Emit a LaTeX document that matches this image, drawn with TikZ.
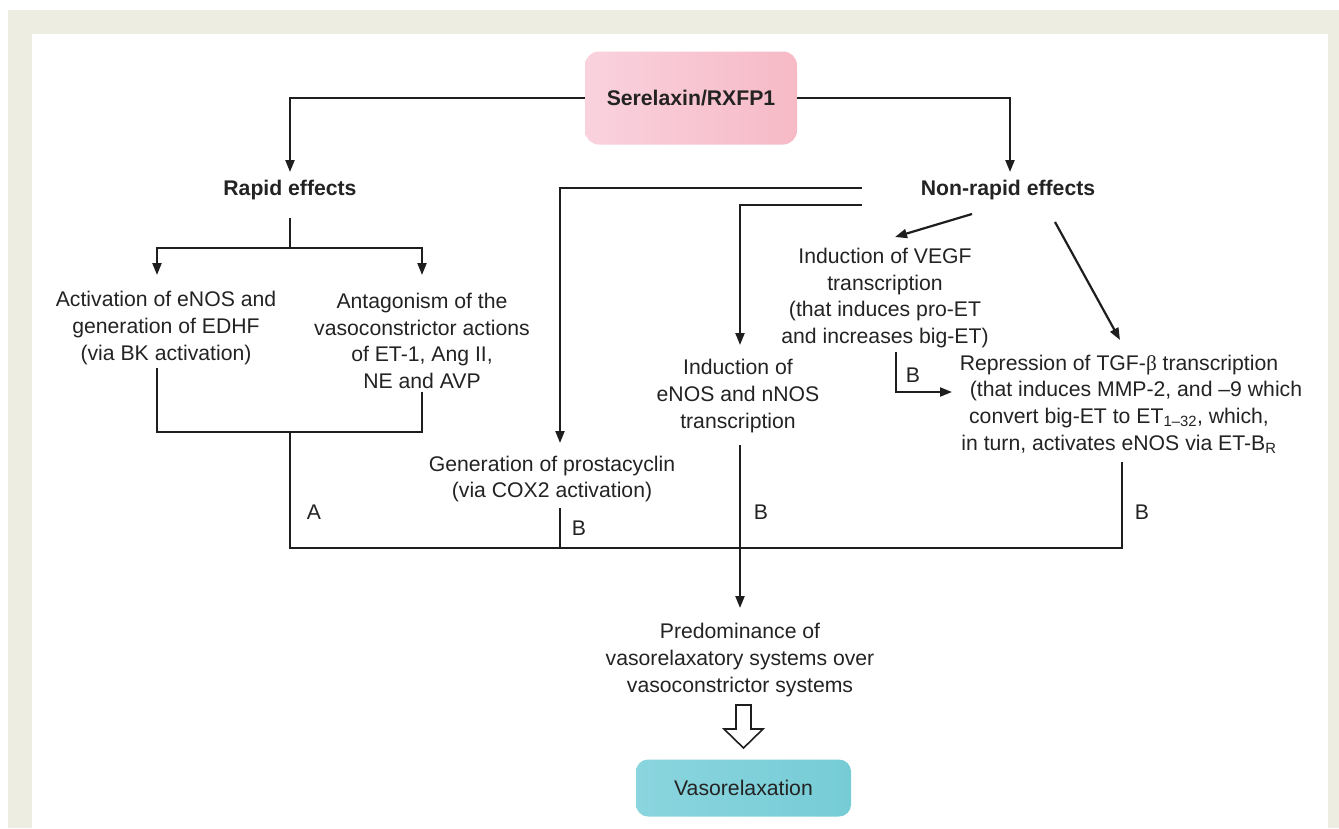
\documentclass[tikz,border=0pt]{standalone}
\usepackage{fontspec}
\setmainfont{Liberation Sans}
\newfontfamily\grk{Liberation Serif}
\usetikzlibrary{arrows.meta}
\definecolor{beige}{RGB}{238,237,226}
\definecolor{txtc}{RGB}{35,35,35}
\definecolor{linec}{RGB}{30,30,30}
\definecolor{pinkL}{RGB}{249,210,222}
\definecolor{pinkR}{RGB}{246,186,198}
\definecolor{tealL}{RGB}{138,213,222}
\definecolor{tealR}{RGB}{118,204,214}
\newcommand\fsn{\fontsize{21.2}{26.6}\selectfont}
\newcommand\fsb{\fontsize{21.2}{26}\selectfont\bfseries}
\begin{document}
\begin{tikzpicture}[x=1pt,y=-1pt,
  txt/.style={align=center,font=\fsn,inner sep=0pt,text=txtc},
  hd/.style={font=\fsb,inner sep=0pt,text=txtc},
  lab/.style={font=\fsn,inner sep=0pt,text=txtc},
  ln/.style={draw=linec,line width=2.2pt},
  arr/.style={ln,-{Triangle[length=12pt,width=9pt]}},
  box/.style={rounded corners=14pt,inner sep=0pt,text=txtc}]
\useasboundingbox (0,0) rectangle (1339,828);
\fill[white] (0,0) rectangle (1339,828);
\fill[beige] (8,10) rectangle (1339,828);
\fill[white] (32,34) rectangle (1328,828);

% nodes
\node[box,left color=pinkL,right color=pinkR,minimum width=212pt,minimum height=93pt,font=\fsb] (ser) at (691,98) {Serelaxin/RXFP1};
\node[hd] (rapid) at (290,190) {Rapid effects};
\node[hd] (nonrapid) at (1008,190) {Non-rapid effects};
\node[txt] (act) at (166,328) {Activation of eNOS and\\generation of EDHF\\(via BK activation)};
\node[txt] (ant) at (422,341) {Antagonism of the\\vasoconstrictor actions\\of ET-1, Ang II,\\NE and AVP};
\node[txt] (pros) at (552,479) {Generation of prostacyclin\\(via COX2 activation)};
\node[txt] (enos) at (738,396) {Induction of\\eNOS and nNOS\\transcription};
\node[txt] (vegf) at (885,298) {Induction of VEGF\\transcription\\(that induces pro-ET\\and increases big-ET)};
\node[txt] (tgf) at (1119,404) {Repression of TGF-{\grk β} transcription\\\hspace*{34pt}(that induces MMP-2, and –9 which\\convert big-ET to ET\textsubscript{1–32}, which,\\in turn, activates eNOS via ET-B\textsubscript{R}};
\node[txt] (pred) at (740,660) {Predominance of\\vasorelaxatory systems over\\vasoconstrictor systems};
\node[box,rounded corners=12pt,left color=tealL,right color=tealR,minimum width=215pt,minimum height=57pt,font=\fsn] (vaso) at (743.5,788) {Vasorelaxation};

\node[lab] (lA) at (314,512) {A};
\node[lab] (lB1) at (579,528) {B};
\node[lab] (lB2) at (761,512) {B};
\node[lab] (lB3) at (913,375) {B};
\node[lab] (lB4) at (1142,512) {B};

% coordinates
\coordinate (rapidIn) at (290,172);
\coordinate (nonIn) at (1010,172);
\coordinate (rapidOut) at (290,218);
\coordinate (fork) at (290,248);
\coordinate (actIn) at (157,275);
\coordinate (antIn) at (422,275);
\coordinate (actOut) at (157,368);
\coordinate (antOut) at (422,392);
\coordinate (jA) at (290,432);
\coordinate (jAbot) at (290,548);
\coordinate (tgfOut) at (1122,462);
\coordinate (prosFrom) at (862,188);
\coordinate (prosIn) at (560,443);
\coordinate (prosOut) at (560,508);
\coordinate (prosJ) at (560,548);
\coordinate (enosFrom) at (862,205);
\coordinate (enosIn) at (740,345);
\coordinate (enosOut) at (740,445);
\coordinate (predIn) at (740,608);
\coordinate (vegfFrom) at (972,214);
\coordinate (vegfIn) at (895,237);
\coordinate (vegfOut) at (896,352);
\coordinate (tgfIn2) at (952,392);
\coordinate (tgfFrom) at (1055,222);
\coordinate (tgfIn) at (1120,340);

% connectors
\draw[arr] (ser.west) -| (rapidIn);
\draw[arr] (ser.east) -| (nonIn);
\draw[ln] (rapidOut) -- (fork);
\draw[arr] (fork) -| (actIn);
\draw[arr] (fork) -| (antIn);
\draw[ln] (actOut) |- (jA) -| (antOut);
\draw[ln] (jA) -- (jAbot) -| (tgfOut);
\draw[ln] (prosOut) -- (prosJ);
\draw[arr] (prosFrom) -| (prosIn);
\draw[arr] (enosFrom) -| (enosIn);
\draw[arr] (enosOut) -- (predIn);
\draw[arr] (vegfFrom) -- (vegfIn);
\draw[arr] (vegfOut) |- (tgfIn2);
\draw[arr] (tgfFrom) -- (tgfIn);

% hollow arrow
\draw[linec,line width=1.6pt,fill=white,line join=miter]
  (736,705) -- (751,705) -- (751,729) -- (763,729) -- (743.5,748) -- (724,729) -- (736,729) -- cycle;
\end{tikzpicture}
\end{document}
